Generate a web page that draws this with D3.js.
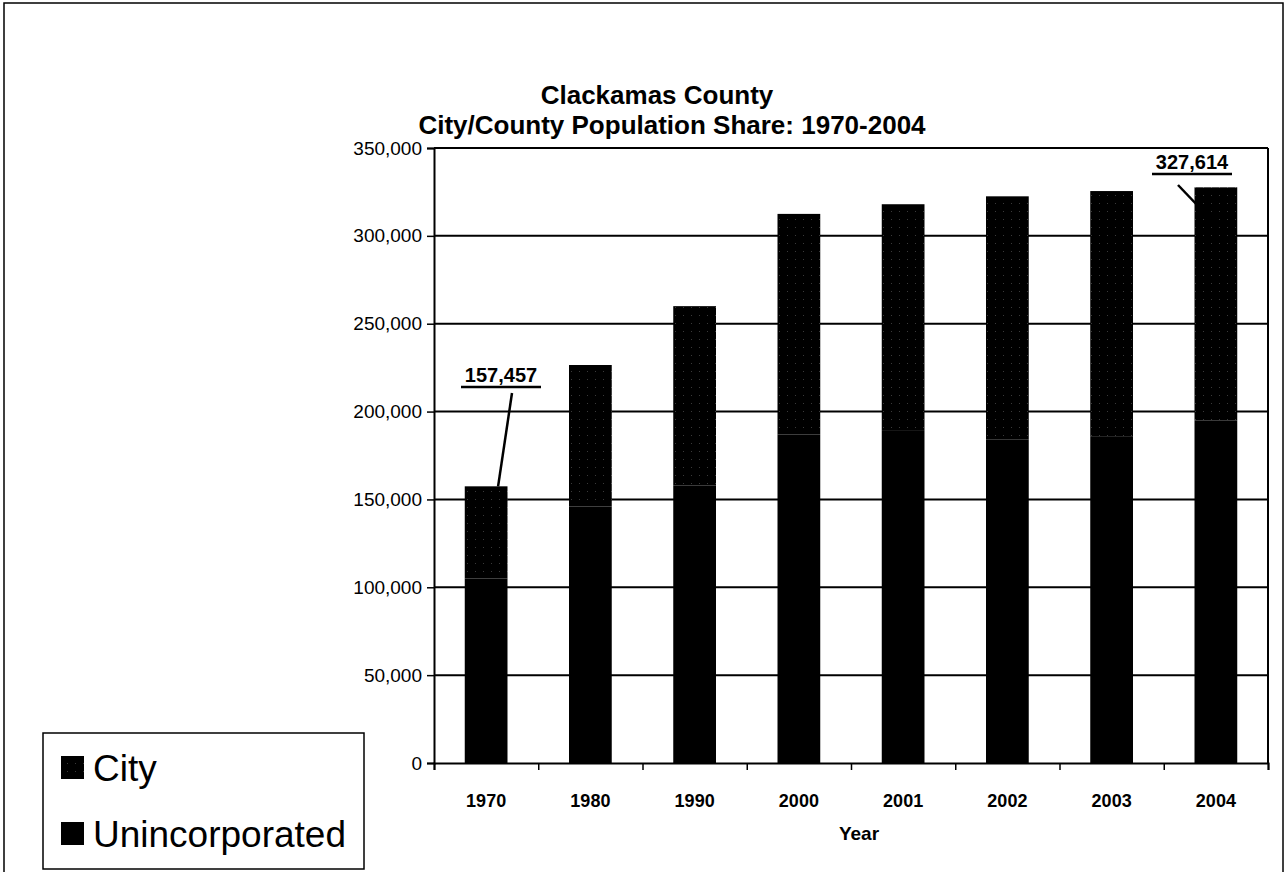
<!DOCTYPE html>
<html>
<head>
<meta charset="utf-8">
<style>
  body { margin: 0; background: #fff; }
  svg { font-family: "Liberation Sans", Arial, sans-serif; }
</style>
</head>
<body>
<div id="chart"></div>
<script src="https://d3js.org/d3.v7.min.js"></script>
<script>
    // values
    var years = ["1970", "1980", "1990", "2000", "2001", "2002", "2003", "2004"];
    var uninc = [105000, 146000, 158000, 187000, 189000, 184000, 186000, 195000];
    var city = [52457, 80500, 102000, 125500, 129000, 138500, 139500, 132614];
    var yTicks = [0, 50000, 100000, 150000, 200000, 250000, 300000, 350000];
    var seriesNames = ["Unincorporated", "City"];
    var callouts = [{ year: "1970", text: "157,457" }, { year: "2004", text: "327,614" }];

    var W = 1287, H = 872;
    var pLeft = 434, pRight = 1268, pTop = 148, pBottom = 763;

    var svg = d3.select("#chart").append("svg")
        .attr("width", W)
        .attr("height", H);

    // pattern for city segments (near black with faint specks)
    var defs = svg.append("defs");
    var pat = defs.append("pattern")
        .attr("id", "cityPat")
        .attr("width", 8).attr("height", 8)
        .attr("patternUnits", "userSpaceOnUse");
    pat.append("rect").attr("width", 8).attr("height", 8).attr("fill", "#000");
    pat.append("rect").attr("x", 3).attr("y", 3).attr("width", 1).attr("height", 1).attr("fill", "#3a3a3a");

    // outer frame
    svg.append("rect")
        .attr("x", 4).attr("y", 3)
        .attr("width", 1279).attr("height", 890)
        .attr("fill", "none").attr("stroke", "#000").attr("stroke-width", 1.5);

    var rows = years.map((yr, i) => ({ year: yr, Unincorporated: uninc[i], City: city[i] }));
    var stacked = d3.stack().keys(seriesNames)(rows);

    var x = d3.scaleBand().domain(years).range([pLeft, pRight]).paddingInner(0.59).paddingOuter(0.295);
    var xb = d3.scaleLinear().domain([0, years.length]).range([pLeft, pRight]);
    var y = d3.scaleLinear().domain([0, 350000]).range([pBottom, pTop]);

    // gridlines
    svg.append("g")
        .selectAll("line")
        .data(yTicks.slice(1))
        .enter().append("line")
        .attr("x1", pLeft).attr("x2", pRight)
        .attr("y1", d => y(d)).attr("y2", d => y(d))
        .attr("stroke", "#000").attr("stroke-width", 2);

    // right border of plot
    svg.append("line")
        .attr("x1", pRight).attr("x2", pRight)
        .attr("y1", pTop).attr("y2", pBottom)
        .attr("stroke", "#000").attr("stroke-width", 2);

    // bars
    var fills = { Unincorporated: "#000", City: "url(#cityPat)" };
    svg.append("g")
        .selectAll("g")
        .data(stacked)
        .enter().append("g")
        .attr("fill", d => fills[d.key])
        .selectAll("rect")
        .data(d => d)
        .enter().append("rect")
        .attr("x", d => x(d.data.year))
        .attr("width", x.bandwidth())
        .attr("y", d => y(d[1]))
        .attr("height", d => y(d[0]) - y(d[1]));

    // y axis
    var yAxis = d3.axisLeft(y)
        .tickValues(yTicks)
        .tickFormat(d3.format(","))
        .tickSize(7)
        .tickPadding(5);
    var gy = svg.append("g")
        .attr("transform", "translate(" + pLeft + ",0)")
        .call(yAxis);
    gy.select(".domain").attr("stroke-width", 2);
    gy.selectAll(".tick line").attr("stroke-width", 1.5);
    gy.selectAll("text").attr("font-size", 19).attr("fill", "#000");

    // x axis: ticks at band edges, labels at centres
    var gxb = svg.append("g")
        .attr("transform", "translate(0," + pBottom + ")")
        .call(d3.axisBottom(xb).tickValues(d3.range(years.length + 1)).tickFormat("").tickSize(7));
    gxb.select(".domain").attr("stroke-width", 2);
    gxb.selectAll(".tick line").attr("stroke-width", 1.5);

    var gx = svg.append("g")
        .attr("transform", "translate(0," + pBottom + ")")
        .call(d3.axisBottom(x).tickSize(0).tickPadding(31));
    gx.select(".domain").remove();
    gx.selectAll("text")
        .attr("font-size", 18).attr("font-weight", "bold").attr("fill", "#000");

    svg.append("text")
        .attr("x", (pLeft + pRight) / 2 + 8).attr("y", 840)
        .attr("text-anchor", "middle")
        .attr("font-size", 19).attr("font-weight", "bold")
        .text("Year");

    // title
    svg.append("text")
        .attr("x", 657).attr("y", 104)
        .attr("text-anchor", "middle")
        .attr("font-size", 26).attr("font-weight", "bold")
        .text("Clackamas County");
    svg.append("text")
        .attr("x", 672).attr("y", 134)
        .attr("text-anchor", "middle")
        .attr("font-size", 26).attr("font-weight", "bold")
        .text("City/County Population Share: 1970-2004");

    // call-out labels with leader lines
    var totals = years.map((yr, i) => uninc[i] + city[i]);
    var c0 = callouts[0], c1 = callouts[1];
    var i0 = years.indexOf(c0.year), i1 = years.indexOf(c1.year);

    svg.append("text").attr("x", 501).attr("y", 382)
        .attr("text-anchor", "middle").attr("font-size", 20).attr("font-weight", "bold")
        .text(c0.text);
    svg.append("line").attr("x1", 461).attr("x2", 541).attr("y1", 387).attr("y2", 387)
        .attr("stroke", "#000").attr("stroke-width", 2.5);
    svg.append("line")
        .attr("x1", 512).attr("y1", 393)
        .attr("x2", x(c0.year) + x.bandwidth() * 0.78).attr("y2", y(totals[i0]))
        .attr("stroke", "#000").attr("stroke-width", 2.5);

    svg.append("text").attr("x", 1192).attr("y", 169)
        .attr("text-anchor", "middle").attr("font-size", 20).attr("font-weight", "bold")
        .text(c1.text);
    svg.append("line").attr("x1", 1152).attr("x2", 1232).attr("y1", 174).attr("y2", 174)
        .attr("stroke", "#000").attr("stroke-width", 2.5);
    svg.append("line")
        .attr("x1", 1178).attr("y1", 185)
        .attr("x2", x(c1.year) + x.bandwidth() * 0.45).attr("y2", y(totals[i1]) + 35)
        .attr("stroke", "#000").attr("stroke-width", 2.5);

    // legend
    var lg = svg.append("g");
    lg.append("rect")
        .attr("x", 43).attr("y", 733).attr("width", 321).attr("height", 136)
        .attr("fill", "#fff").attr("stroke", "#000").attr("stroke-width", 1.5);
    var legendItems = [{ name: "City", fill: "url(#cityPat)" }, { name: "Unincorporated", fill: "#000" }];
    legendItems.forEach((d, i) => {
        var cy = 768 + i * 66;
        lg.append("rect")
            .attr("x", 61).attr("y", cy - 12).attr("width", 23).attr("height", 23)
            .attr("fill", d.fill);
        lg.append("text")
            .attr("x", 93).attr("y", cy + 13)
            .attr("font-size", 37)
            .text(d.name);
    });
</script>
</body>
</html>
